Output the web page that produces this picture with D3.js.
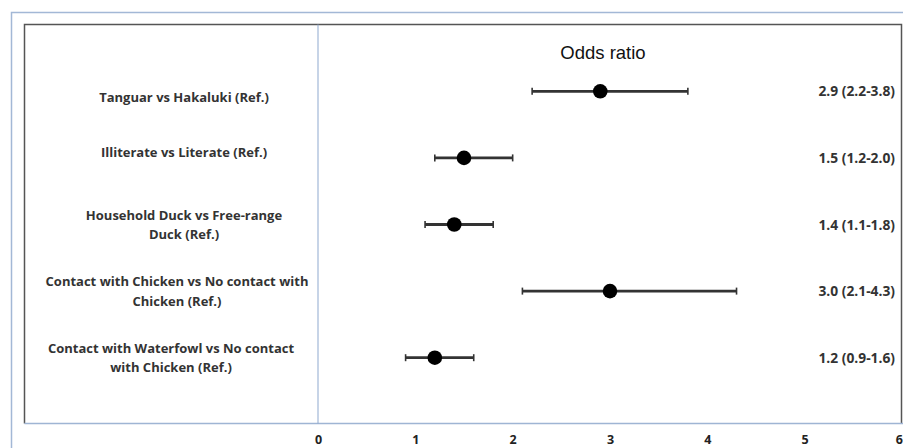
<!DOCTYPE html>
<html>
<head>
<meta charset="utf-8">
<script src="https://cdn.jsdelivr.net/npm/d3@7"></script>
<style>
  html, body { margin: 0; padding: 0; background: #fff; overflow: hidden; }
  svg { display: block; }
</style>
</head>
<body>
<svg id="chart" width="903" height="448"></svg>
<script>
// Forest plot data: odds ratios with 95% confidence intervals
const labels = [
  ["Tanguar vs Hakaluki (Ref.)"],
  ["Illiterate vs Literate (Ref.)"],
  ["Household Duck vs Free-range", "Duck (Ref.)"],
  ["Contact with Chicken vs No contact with", "Chicken (Ref.)"],
  ["Contact with Waterfowl vs No contact", "with Chicken (Ref.)"]
];
const oddsRatio = [2.9, 1.5, 1.4, 3.0, 1.2];
const ciLow     = [2.2, 1.2, 1.1, 2.1, 0.9];
const ciHigh    = [3.8, 2.0, 1.8, 4.3, 1.6];
const xTicks    = [0, 1, 2, 3, 4, 5, 6];

const svg = d3.select("#chart");
const font = "'Open Sans', 'Liberation Sans', sans-serif";

// frame geometry
const frame = { left: 24.5, top: 24.5, right: 901.5, bottom: 423.5 };
const x = d3.scaleLinear().domain([0, 6]).range([318, 902]);
const y = d3.scaleBand().domain(d3.range(labels.length)).range([58, 391]);

// outer light-blue border
svg.append("path")
  .attr("d", `M11.5,448 V12.5 H903`)
  .attr("fill", "none").attr("stroke", "#a3b8d6").attr("stroke-width", 1.5);

// inner dark frame
svg.append("path")
  .attr("d", `M${frame.left},${frame.bottom} V${frame.top} H${frame.right} V${frame.bottom}`)
  .attr("fill", "none").attr("stroke", "#555").attr("stroke-width", 1.5);

// x axis along the frame bottom
const xAxis = svg.append("g")
  .attr("transform", `translate(0,${frame.bottom})`)
  .call(d3.axisBottom(x).tickValues(xTicks).tickSize(0).tickPadding(0).tickFormat(d3.format("d")));
xAxis.select(".domain").remove();
xAxis.selectAll("text")
  .attr("dy", null).attr("y", 20.5)
  .attr("font-family", font).attr("font-size", 12.5).attr("font-weight", "bold").attr("fill", "#222");
// the last tick sits on the page edge, so its label hangs to the left
xAxis.selectAll(".tick").filter(d => d === d3.max(xTicks)).select("text")
  .attr("text-anchor", "end").attr("x", 0.5);
svg.append("line")
  .attr("x1", frame.left).attr("x2", 903)
  .attr("y1", frame.bottom).attr("y2", frame.bottom)
  .attr("stroke", "#9fb5d4").attr("stroke-width", 1.5);

// zero reference line
svg.append("line")
  .attr("x1", x(0)).attr("x2", x(0))
  .attr("y1", frame.top).attr("y2", frame.bottom)
  .attr("stroke", "#8fa9cf").attr("stroke-width", 1);

// title
svg.append("text")
  .attr("x", 603).attr("y", 59)
  .attr("text-anchor", "middle")
  .attr("font-family", "'Liberation Sans', sans-serif")
  .attr("font-size", 18.5).attr("fill", "#111")
  .text("Odds ratio");

const rowY = i => y(i) + y.bandwidth() / 2;
const labelCx = [184, 184, 184, 177, 171];

// row labels
const lab = svg.append("g").selectAll("text").data(labels).join("text")
  .attr("text-anchor", "middle")
  .attr("font-family", font).attr("font-size", 13).attr("font-weight", "bold")
  .attr("fill", "#333")
  .attr("transform", (d, i) => {
    const off = d.length === 1 ? (i === 0 ? 11 : -1) : -5;
    return `translate(${labelCx[i]},${rowY(i) + off})`;
  });
lab.selectAll("tspan").data(d => d).join("tspan")
  .attr("x", 0).attr("dy", (d, j) => j === 0 ? 0 : 19.5)
  .text(d => d);

// confidence interval lines and caps
const g = svg.append("g");
g.selectAll(".ci").data(oddsRatio).join("line")
  .attr("x1", (d, i) => x(ciLow[i])).attr("x2", (d, i) => x(ciHigh[i]))
  .attr("y1", (d, i) => rowY(i)).attr("y2", (d, i) => rowY(i))
  .attr("stroke", "#333").attr("stroke-width", 2.8);
[ciLow, ciHigh].forEach(arr => {
  g.selectAll(null).data(arr).join("line")
    .attr("x1", d => x(d)).attr("x2", d => x(d))
    .attr("y1", (d, i) => rowY(i) - 3.5).attr("y2", (d, i) => rowY(i) + 3.5)
    .attr("stroke", "#333").attr("stroke-width", 1.6);
});

// point estimates
g.selectAll("circle").data(oddsRatio).join("circle")
  .attr("cx", d => x(d)).attr("cy", (d, i) => rowY(i))
  .attr("r", 7.3).attr("fill", "#000");

// value annotations
svg.append("g").selectAll("text").data(oddsRatio).join("text")
  .attr("x", 895).attr("y", (d, i) => rowY(i) + 5)
  .attr("text-anchor", "end")
  .attr("font-family", font).attr("font-size", 13.8).attr("font-weight", "bold")
  .attr("fill", "#333")
  .text((d, i) => `${d.toFixed(1)} (${ciLow[i].toFixed(1)}-${ciHigh[i].toFixed(1)})`);
</script>
</body>
</html>
